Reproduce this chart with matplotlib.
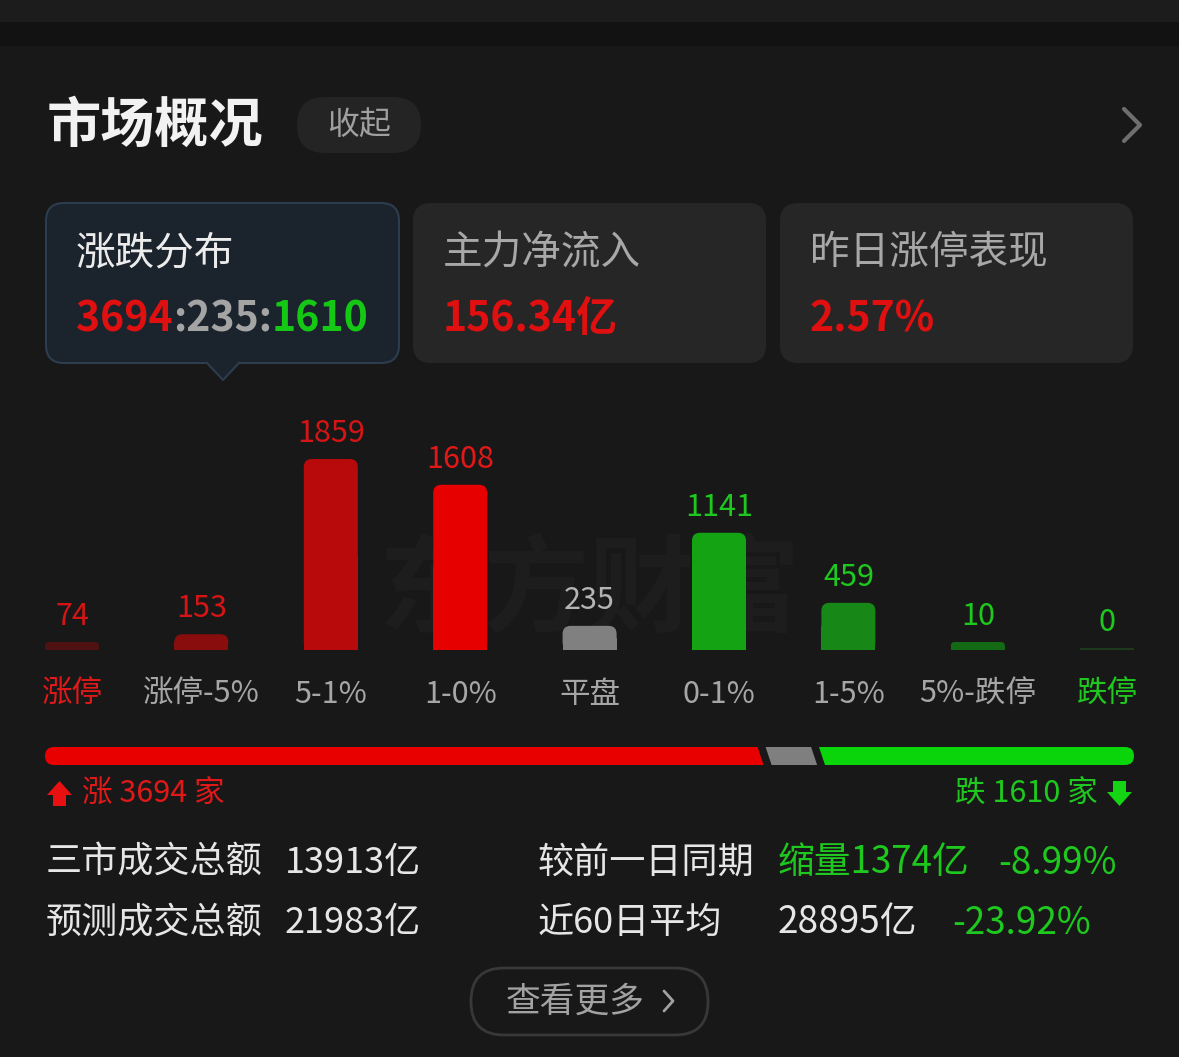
import numpy as np
import matplotlib
matplotlib.use("Agg")
import matplotlib.pyplot as plt
from matplotlib.patches import FancyBboxPatch, Polygon, Rectangle

plt.rcParams["font.family"] = ["Noto Sans CJK SC", "DejaVu Sans"]

# ----------------------------------------------------------------------
# data
# ----------------------------------------------------------------------
categories = ["涨停", "涨停-5%", "5-1%", "1-0%", "平盘", "0-1%", "1-5%", "5%-跌停", "跌停"]
counts = [74, 153, 1859, 1608, 235, 1141, 459, 10, 0]
bar_colors = ["#4e1212", "#8a0d0d", "#b80a0a", "#e60000", "#808080",
              "#13a313", "#178817", "#146914", "#1d3a1d"]
value_colors = ["#d51515", "#d51515", "#d51515", "#e01818", "#b4b4b4",
                "#1ec81e", "#1ec81e", "#1ec81e", "#1ec81e"]
label_colors = ["#e01818"] + ["#a6a6a6"] * 7 + ["#1ec81e"]

up_n, flat_n, down_n = 3694, 235, 1610
main_inflow = "156.34亿"
limit_up_perf = "2.57%"

stats_left = [("三市成交总额", "13913亿"), ("预测成交总额", "21983亿")]
stats_right = [("较前一日同期", [("缩量1374亿", "#1ec81e"), ("-8.99%", "#1ec81e")]),
               ("近60日平均", [("28895亿", "#e6e6e6"), ("-23.92%", "#1ec81e")])]

BG = "#181818"
W, H = 1179, 1057
RED = "#e01818"
GREEN = "#1ec81e"

fig = plt.figure(figsize=(W / 100, H / 100), dpi=100, facecolor=BG)
ui = fig.add_axes([0, 0, 1, 1])
ui.set_xlim(0, W)
ui.set_ylim(H, 0)
ui.axis("off")
ui.set_facecolor(BG)
renderer = fig.canvas.get_renderer()


def rbox(x, y, w, h, r, fc, ec="none", lw=0, z=1):
    p = FancyBboxPatch((x, y), w, h, boxstyle=f"round,pad=0,rounding_size={r}",
                       fc=fc, ec=ec, lw=lw, zorder=z)
    ui.add_patch(p)
    return p


def text_run(x, y, parts, size, weight="normal", gap=0):
    """Write coloured pieces one after another on one baseline."""
    for s, c in parts:
        t = ui.text(x, y, s, color=c, fontsize=size, fontweight=weight,
                    va="center", ha="left", zorder=5)
        bb = t.get_window_extent(renderer)
        x += bb.width + gap
    return x


# top strips
ui.add_patch(Rectangle((0, 0), W, 22, fc="#1c1c1c", zorder=0))
ui.add_patch(Rectangle((0, 22), W, 24, fc="#121212", zorder=0))

# header
ui.text(47, 126, "市场概况", color="#f2f2f2", fontsize=39, fontweight="bold",
        va="center", ha="left")
rbox(297, 97, 124, 56, 28, "#242424")
ui.text(359, 125, "收起", color="#a0a0a0", fontsize=23, va="center", ha="center")
ui.plot([1124, 1140, 1124], [109, 125, 141], color="#6e6e6e", lw=3,
        solid_capstyle="round", solid_joinstyle="round")

# cards
rbox(46, 203, 353, 160, 18, "#1b232c", ec="#2c3d4f", lw=1.5)
ui.add_patch(Polygon([[207, 362], [239, 362], [223, 380]], closed=True,
                     fc="#1b232c", ec="none", zorder=2))
ui.plot([207, 223, 239], [363, 380, 363], color="#2c3d4f", lw=1.5, zorder=2)
rbox(413, 203, 353, 160, 18, "#262626")
rbox(780, 203, 353, 160, 18, "#262626")

ui.text(76, 253, "涨跌分布", color="#ececec", fontsize=28.5, va="center")
ui.text(443, 253, "主力净流入", color="#a8a8a8", fontsize=28.5, va="center")
ui.text(810, 253, "昨日涨停表现", color="#a8a8a8", fontsize=28.5, va="center")
text_run(76, 319, [(str(up_n), "#e01010"), (":" + str(flat_n) + ":", "#a4a4a4"),
                   (str(down_n), "#16c816")], 29.5, weight="bold")
ui.text(443, 319, main_inflow, color="#e01010", fontsize=29.5, fontweight="bold", va="center")
ui.text(810, 319, limit_up_perf, color="#e01010", fontsize=29.5, fontweight="bold", va="center")

# watermark
ui.text(590, 592, "东方财富", color="#1d1d1d", fontsize=76, fontweight="bold",
        va="center", ha="center", zorder=0.5)

# ----------------------------------------------------------------------
# bar chart
# ----------------------------------------------------------------------
step = 129.4
px_per_unit = 191 / 1859
base_px, top_px = 650, 390
left_px = 72 - step / 2
ax = fig.add_axes([left_px / W, (H - base_px) / H, 9 * step / W, (base_px - top_px) / H])
ax.set_facecolor("none")
ax.set_xlim(-0.5, 8.5)
ax.set_ylim(0, (base_px - top_px) / px_per_unit)
for s in ax.spines.values():
    s.set_visible(False)
ax.set_yticks([])

x = np.arange(len(categories))
vals = np.array(counts, dtype=float)
shown = np.where(vals == 0, 2 / px_per_unit, np.maximum(vals, 8 / px_per_unit))
bw = 54 / step
bars = ax.bar(x, shown, width=bw, color=bar_colors, zorder=2)
aspect = (1 / px_per_unit) * step
for rect, c in zip(bars, bar_colors):
    bx, by, w, h = rect.get_x(), rect.get_y(), rect.get_width(), rect.get_height()
    hpx = h * px_per_unit
    r = min(8, hpx / 2) / step
    if hpx > 3:
        ax.add_patch(FancyBboxPatch((bx, by), w, h, boxstyle=f"round,pad=0,rounding_size={r}",
                                    mutation_aspect=aspect, fc=c, ec="none", zorder=2))
        rect.set_height(h / 2)

for xi, h, v, c in zip(x, shown, counts, value_colors):
    ax.annotate(str(v), (xi, h), xytext=(0, 17), textcoords="offset pixels",
                ha="center", va="baseline", color=c, fontsize=22, zorder=3)

ax.set_xticks(x, categories, fontsize=22)
ax.tick_params(axis="x", length=0, pad=21)
for lab, c in zip(ax.get_xticklabels(), label_colors):
    lab.set_color(c)

# ----------------------------------------------------------------------
# up / flat / down bar
# ----------------------------------------------------------------------
x0, x1, y0, y1 = 45, 1134, 747, 765
gap, sl = 8, 6
total = up_n + flat_n + down_n
avail = (x1 - x0) - 2 * gap
wr = avail * up_n / total
wg = avail * flat_n / total
red_end = x0 + wr
gray_end = red_end + gap + wg
rbox(x0, y0, wr - 10, y1 - y0, 9, "#e80000", z=2)
ui.add_patch(Polygon([[x0 + 20, y0], [red_end - sl / 2, y0], [red_end + sl / 2, y1],
                      [x0 + 20, y1]], fc="#e80000", ec="none", zorder=2))
ui.add_patch(Polygon([[red_end + gap - sl / 2, y0], [gray_end - sl / 2, y0],
                      [gray_end + sl / 2, y1], [red_end + gap + sl / 2, y1]],
                     fc="#7f7f7f", ec="none", zorder=2))
gs = gray_end + gap
rbox(gs + 10, y0, x1 - gs - 10, y1 - y0, 9, "#0ad40a", z=2)
ui.add_patch(Polygon([[gs - sl / 2, y0], [gs + 20, y0], [gs + 20, y1], [gs + sl / 2, y1]],
                     fc="#0ad40a", ec="none", zorder=2))

# arrows + counts
ui.add_patch(Polygon([[47, 795], [59.5, 781], [72, 795], [66, 795], [66, 806],
                      [53, 806], [53, 795]], fc="#e81010", ec="none"))
ui.text(82, 794, f"涨 {up_n} 家", color=RED, fontsize=22, va="center", ha="left")
ui.add_patch(Polygon([[1107, 792], [1119.5, 806], [1132, 792], [1126, 792], [1126, 781],
                      [1113, 781], [1113, 792]], fc="#14d414", ec="none"))
ui.text(1098, 794, f"跌 {down_n} 家", color=GREEN, fontsize=22, va="center", ha="right")

# ----------------------------------------------------------------------
# stats rows
# ----------------------------------------------------------------------
for row_y, (lab, val) in zip([863, 923], stats_left):
    ui.text(46, row_y, lab, color="#e6e6e6", fontsize=26, va="center")
    ui.text(285, row_y, val, color="#e6e6e6", fontsize=26, va="center")
right_x = [[778, 998], [778, 952]]
for row_y, (lab, pieces), xs in zip([863, 923], stats_right, right_x):
    ui.text(538, row_y, lab, color="#e6e6e6", fontsize=26, va="center")
    for (s, c), px in zip(pieces, xs):
        ui.text(px, row_y, s, color=c, fontsize=26.5, va="center")

# more button
rbox(471, 968, 237, 67, 33, "none", ec="#383838", lw=2)
ui.text(575, 1002, "查看更多", color="#a2a2a2", fontsize=25, va="center", ha="center")
ui.plot([664, 673, 664], [991, 1001, 1011], color="#a2a2a2", lw=2,
        solid_capstyle="round", solid_joinstyle="round")

fig.savefig("out.png", dpi=100, facecolor=BG)
